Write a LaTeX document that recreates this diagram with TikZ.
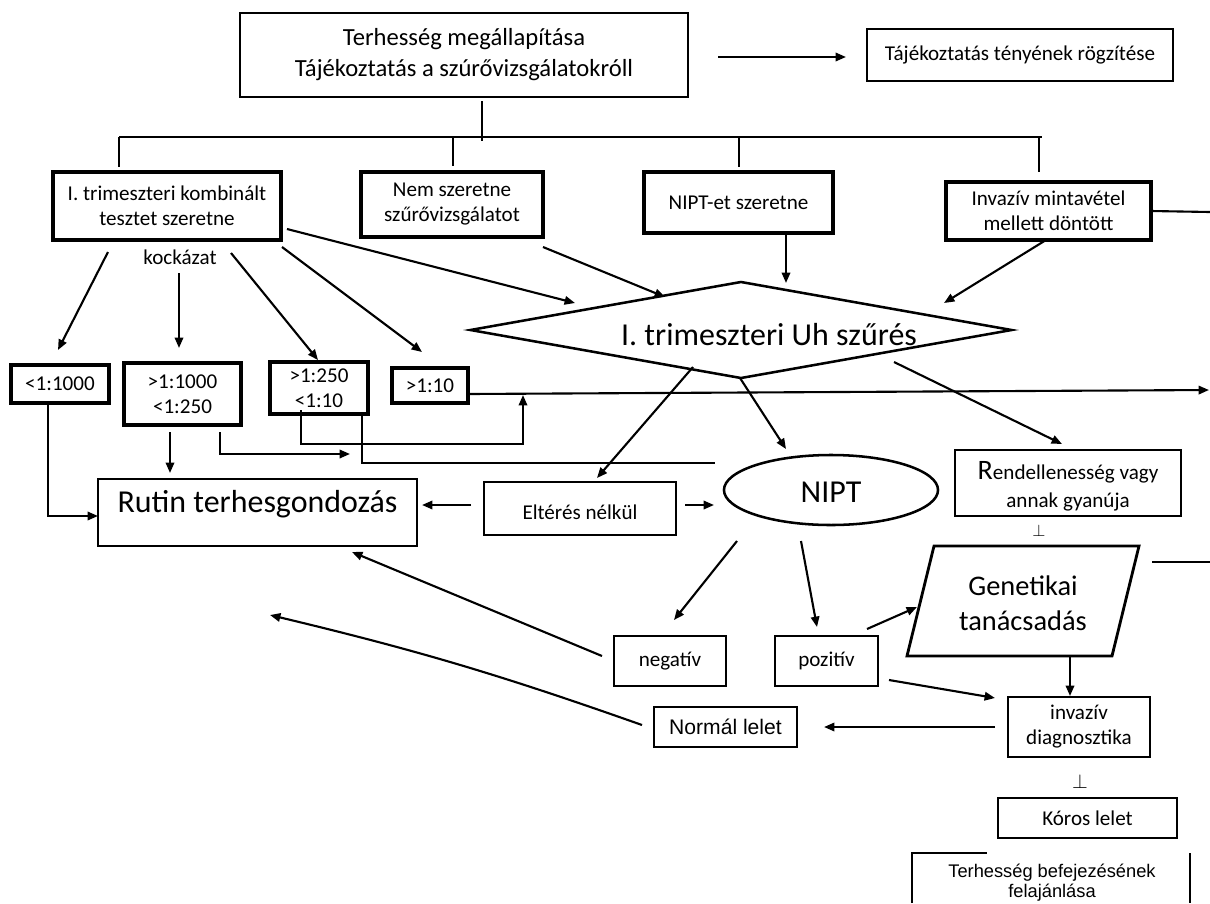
\documentclass[tikz,border=0pt]{standalone}
\usepackage{fontspec}
\setmainfont{Carlito}
\newfontfamily\arialf{Liberation Sans}
\usetikzlibrary{arrows.meta,shapes.geometric}
\newcommand\fsA{\fontsize{15}{17.8}\selectfont}
\newcommand\fsB{\fontsize{22.7}{27}\selectfont}
\newcommand\fsC{\fontsize{20.2}{25}\selectfont}
\begin{document}
\begin{tikzpicture}[x=0.025cm,y=-0.025cm,
  every node/.style={inner sep=0pt,outer sep=0pt,align=center,font=\fsA},
  corners/.style n args={4}{at={({(#1+#3)/2},{(#2+#4)/2})},
     minimum width={(#3-#1)*0.025cm}, minimum height={(#4-#2)*0.025cm}},
  bx/.style={draw,line width=2pt},
  tbx/.style={draw,line width=2.3pt},
  ln/.style={line width=1.8pt},
  arr/.style={line width=1.5pt,-{Triangle[length=0.26cm,width=0.21cm]}},
  pl/.style={line width=1.5pt}]
\useasboundingbox (0,0) rectangle (1210,903);

% ---------- nodes ----------
\node[bx,line width=2.1pt,corners={240}{13}{688}{97},font=\fontsize{17.5}{22}\selectfont] (top)
  {Terhesség megállapítása\\Tájékoztatás a szúrővizsgálatokróll};
\node[bx,corners={867}{29}{1173}{81}] (info) {Tájékoztatás tényének rögzítése};
\node[tbx,corners={53}{172}{281}{240}] (komb) {I. trimeszteri kombinált\\tesztet szeretne};
\node[tbx,corners={361}{172}{543}{237}] (nem) {Nem szeretne\\szűrővizsgálatot};
\node[tbx,corners={644}{172}{833}{233}] (niptw) {NIPT-et szeretne};
\node[tbx,corners={946}{182}{1151}{240}] (inv) {Invazív mintavétel\\mellett döntött};
\node (kock) at (180,257) {kockázat};
\node[tbx,corners={11}{365}{109}{403}] (r1) {<1:1000};
\node[tbx,corners={124}{363}{241}{425}] (r2) {>1:1000\\<1:250};
\node[tbx,corners={270}{362}{368}{414}] (r3) {>1:250\\<1:10};
\node[tbx,corners={392}{368}{468}{403}] (r4) {>1:10};
\node[bx,line width=1.9pt,corners={98}{479}{417}{546},font=\fsB] (rutin)
  {\raisebox{0.2cm}[\height][\depth]{Rutin terhesgondozás}};
\node[bx,line width=2.1pt,corners={484}{482}{676}{535}] (elt)
  {\raisebox{-0.09cm}[\height][\depth]{Eltérés nélkül}};
\node[draw,ellipse,line width=1.8pt,minimum width=5.35cm,minimum height=1.75cm,font=\fsB] (nipt) at (831,490) {\raisebox{-0.06cm}[\height][\depth]{NIPT}};
\node[draw,diamond,line width=1.8pt,minimum width=13.525cm,minimum height=2.4cm,shape aspect=5.6,font=\fsB] (uh) at (741,330)
  {\raisebox{-0.12cm}[\height][\depth]{\makebox[0pt]{\hspace{1.4cm}I. trimeszteri Uh szűrés}}};
\node[bx,corners={955}{450}{1181}{516}] (rend)
  {\raisebox{-0.12cm}[\height][\depth]{\def\arraystretch{1.12}\begin{tabular}{@{}c@{}}{\fontsize{20}{20}\selectfont R}endellenesség vagy\\annak gyanúja\end{tabular}}};
\node (perpa) at (1039,531) {\fontsize{13}{13}\selectfont$\perp$};
\node[font=\fsC] (gen) at (1023,603) {Genetikai\\tanácsadás};
\coordinate (g1) at (934,546); \coordinate (g2) at (1139,546);
\coordinate (g3) at (1112,656); \coordinate (g4) at (907,656);
\draw[bx] (g1)--(g2)--(g3)--(g4)--cycle;
\node[bx,corners={614}{636}{726}{686}] (neg) {negatív};
\node[bx,corners={775}{636}{878}{686}] (poz) {pozitív};
\node[bx,corners={654}{707}{797}{747},font=\arialf\fsA] (norm) {Normál lelet};
\node[bx,corners={1008}{697}{1150}{757}] (idiag) {invazív\\diagnosztika};
\node (perpb) at (1080,781) {\fontsize{14}{14}\selectfont$\perp$};
\node[bx,corners={998}{798}{1177}{838}] (koros) {Kóros lelet};
\node[font=\arialf\fontsize{13}{14.2}\selectfont] (befej) at (1052,883) {Terhesség befejezésének\\felajánlása};
\coordinate (b1) at (912,903); \coordinate (b2) at (912,853); \coordinate (b3) at (987,853);
\coordinate (b4) at (1190,853); \coordinate (b5) at (1190,903);
\draw[bx] (b1)--(b2)--(b3);
\draw[bx] (b4)--(b5);

% ---------- connector end points ----------
\coordinate (c1) at (718,57);  \coordinate (c2) at (846,57);
\coordinate (t1) at (482,101); \coordinate (t2) at (482,141);
\coordinate (h1) at (119,137); \coordinate (h2) at (1042,137);
\coordinate (d1) at (119,167); \coordinate (d1t) at (119,137);
\coordinate (d2) at (453,166); \coordinate (d2t) at (453,137);
\coordinate (d3) at (739,167); \coordinate (d3t) at (739,137);
\coordinate (d4) at (1039,172); \coordinate (d4t) at (1039,137);
\coordinate (ie) at (1210,212);
\coordinate (k1a) at (108,252); \coordinate (k1b) at (58,350);
\coordinate (k2a) at (179,273); \coordinate (k2b) at (179,348);
\coordinate (k3a) at (231,253); \coordinate (k3b) at (318,360);
\coordinate (k4a) at (282,247); \coordinate (k4b) at (422,352);
\coordinate (k5a) at (287,229); \coordinate (k5b) at (575,303);
\coordinate (n1a) at (543,247); \coordinate (n1b) at (665,297);
\coordinate (w1a) at (786,233); \coordinate (w1b) at (786,283);
\coordinate (i1a) at (1046,240); \coordinate (i1b) at (944,303);
\coordinate (r1a) at (48,403);  \coordinate (r1b) at (48,516); \coordinate (r1c) at (98,516);
\coordinate (r2a) at (170,432); \coordinate (r2b) at (170,473);
\coordinate (r2c) at (220,432); \coordinate (r2d) at (220,454); \coordinate (r2e) at (350,454);
\coordinate (r3a) at (301,410); \coordinate (r3b) at (301,444); \coordinate (r3c) at (523,444); \coordinate (r3d) at (523,395);
\coordinate (r3e) at (362,414); \coordinate (r3f) at (362,463); \coordinate (r3g) at (715,463);
\coordinate (r4a) at (468,394); \coordinate (r4b) at (1209,390);
\coordinate (u1a) at (693,367); \coordinate (u1b) at (597,478);
\coordinate (u2a) at (740,378); \coordinate (u2b) at (786,449);
\coordinate (u3a) at (894,362); \coordinate (u3b) at (1062,444);
\coordinate (e1a) at (471,505); \coordinate (e1b) at (422,505);
\coordinate (e2a) at (685,505); \coordinate (e2b) at (714,505);
\coordinate (p1a) at (737,541); \coordinate (p1b) at (674,620);
\coordinate (p2a) at (801,541); \coordinate (p2b) at (817,627);
\coordinate (z1a) at (867,629); \coordinate (z1b) at (917,607);
\coordinate (ng1) at (602,656); \coordinate (ng2) at (352,552);
\coordinate (ge1) at (1152,562); \coordinate (ge2) at (1210,562);
\coordinate (gd1) at (1070,656); \coordinate (gd2) at (1070,696);
\coordinate (z2a) at (889,680); \coordinate (z2b) at (995,698);
\coordinate (dn1) at (995,727); \coordinate (dn2) at (824,727);
\coordinate (nl1) at (642,725); \coordinate (nl2) at (270,615);

% ---------- connectors ----------
\draw[arr] (c1) -- (c2);
\draw[ln] (t1) -- (t2);
\draw[ln] (h1) -- (h2);
\draw[ln] (d1t) -- (d1);
\draw[ln] (d2t) -- (d2);
\draw[ln] (d3t) -- (d3);
\draw[ln] (d4t) -- (d4);
\draw[pl] (inv.east |- 0,211) -- (ie);
\draw[arr] (k1a) -- (k1b);
\draw[arr] (k2a) -- (k2b);
\draw[arr] (k3a) -- (k3b);
\draw[arr] (k4a) -- (k4b);
\draw[arr] (k5a) -- (k5b);
\draw[arr] (n1a) -- (n1b);
\draw[arr] (w1a) -- (w1b);
\draw[arr] (i1a) -- (i1b);
\draw[arr] (r1a) -- (r1b) -- (r1c);
\draw[arr] (r2a) -- (r2b);
\draw[arr] (r2c) -- (r2d) -- (r2e);
\draw[arr] (r3a) -- (r3b) -- (r3c) -- (r3d);
\draw[pl] (r3e) -- (r3f) -- (r3g);
\draw[arr] (r4a) -- (r4b);
\draw[arr] (u1a) -- (u1b);
\draw[arr] (u2a) -- (u2b);
\draw[arr] (u3a) -- (u3b);
\draw[arr] (e1a) -- (e1b);
\draw[arr] (e2a) -- (e2b);
\draw[arr] (p1a) -- (p1b);
\draw[arr] (p2a) -- (p2b);
\draw[arr] (z1a) -- (z1b);
\draw[arr] (ng1) -- (ng2);
\draw[pl] (ge1) -- (ge2);
\draw[arr] (gd1) -- (gd2);
\draw[arr] (z2a) -- (z2b);
\draw[arr] (dn1) -- (dn2);
\draw[arr] (nl1) to[bend right=3] (nl2);
\end{tikzpicture}
\end{document}
